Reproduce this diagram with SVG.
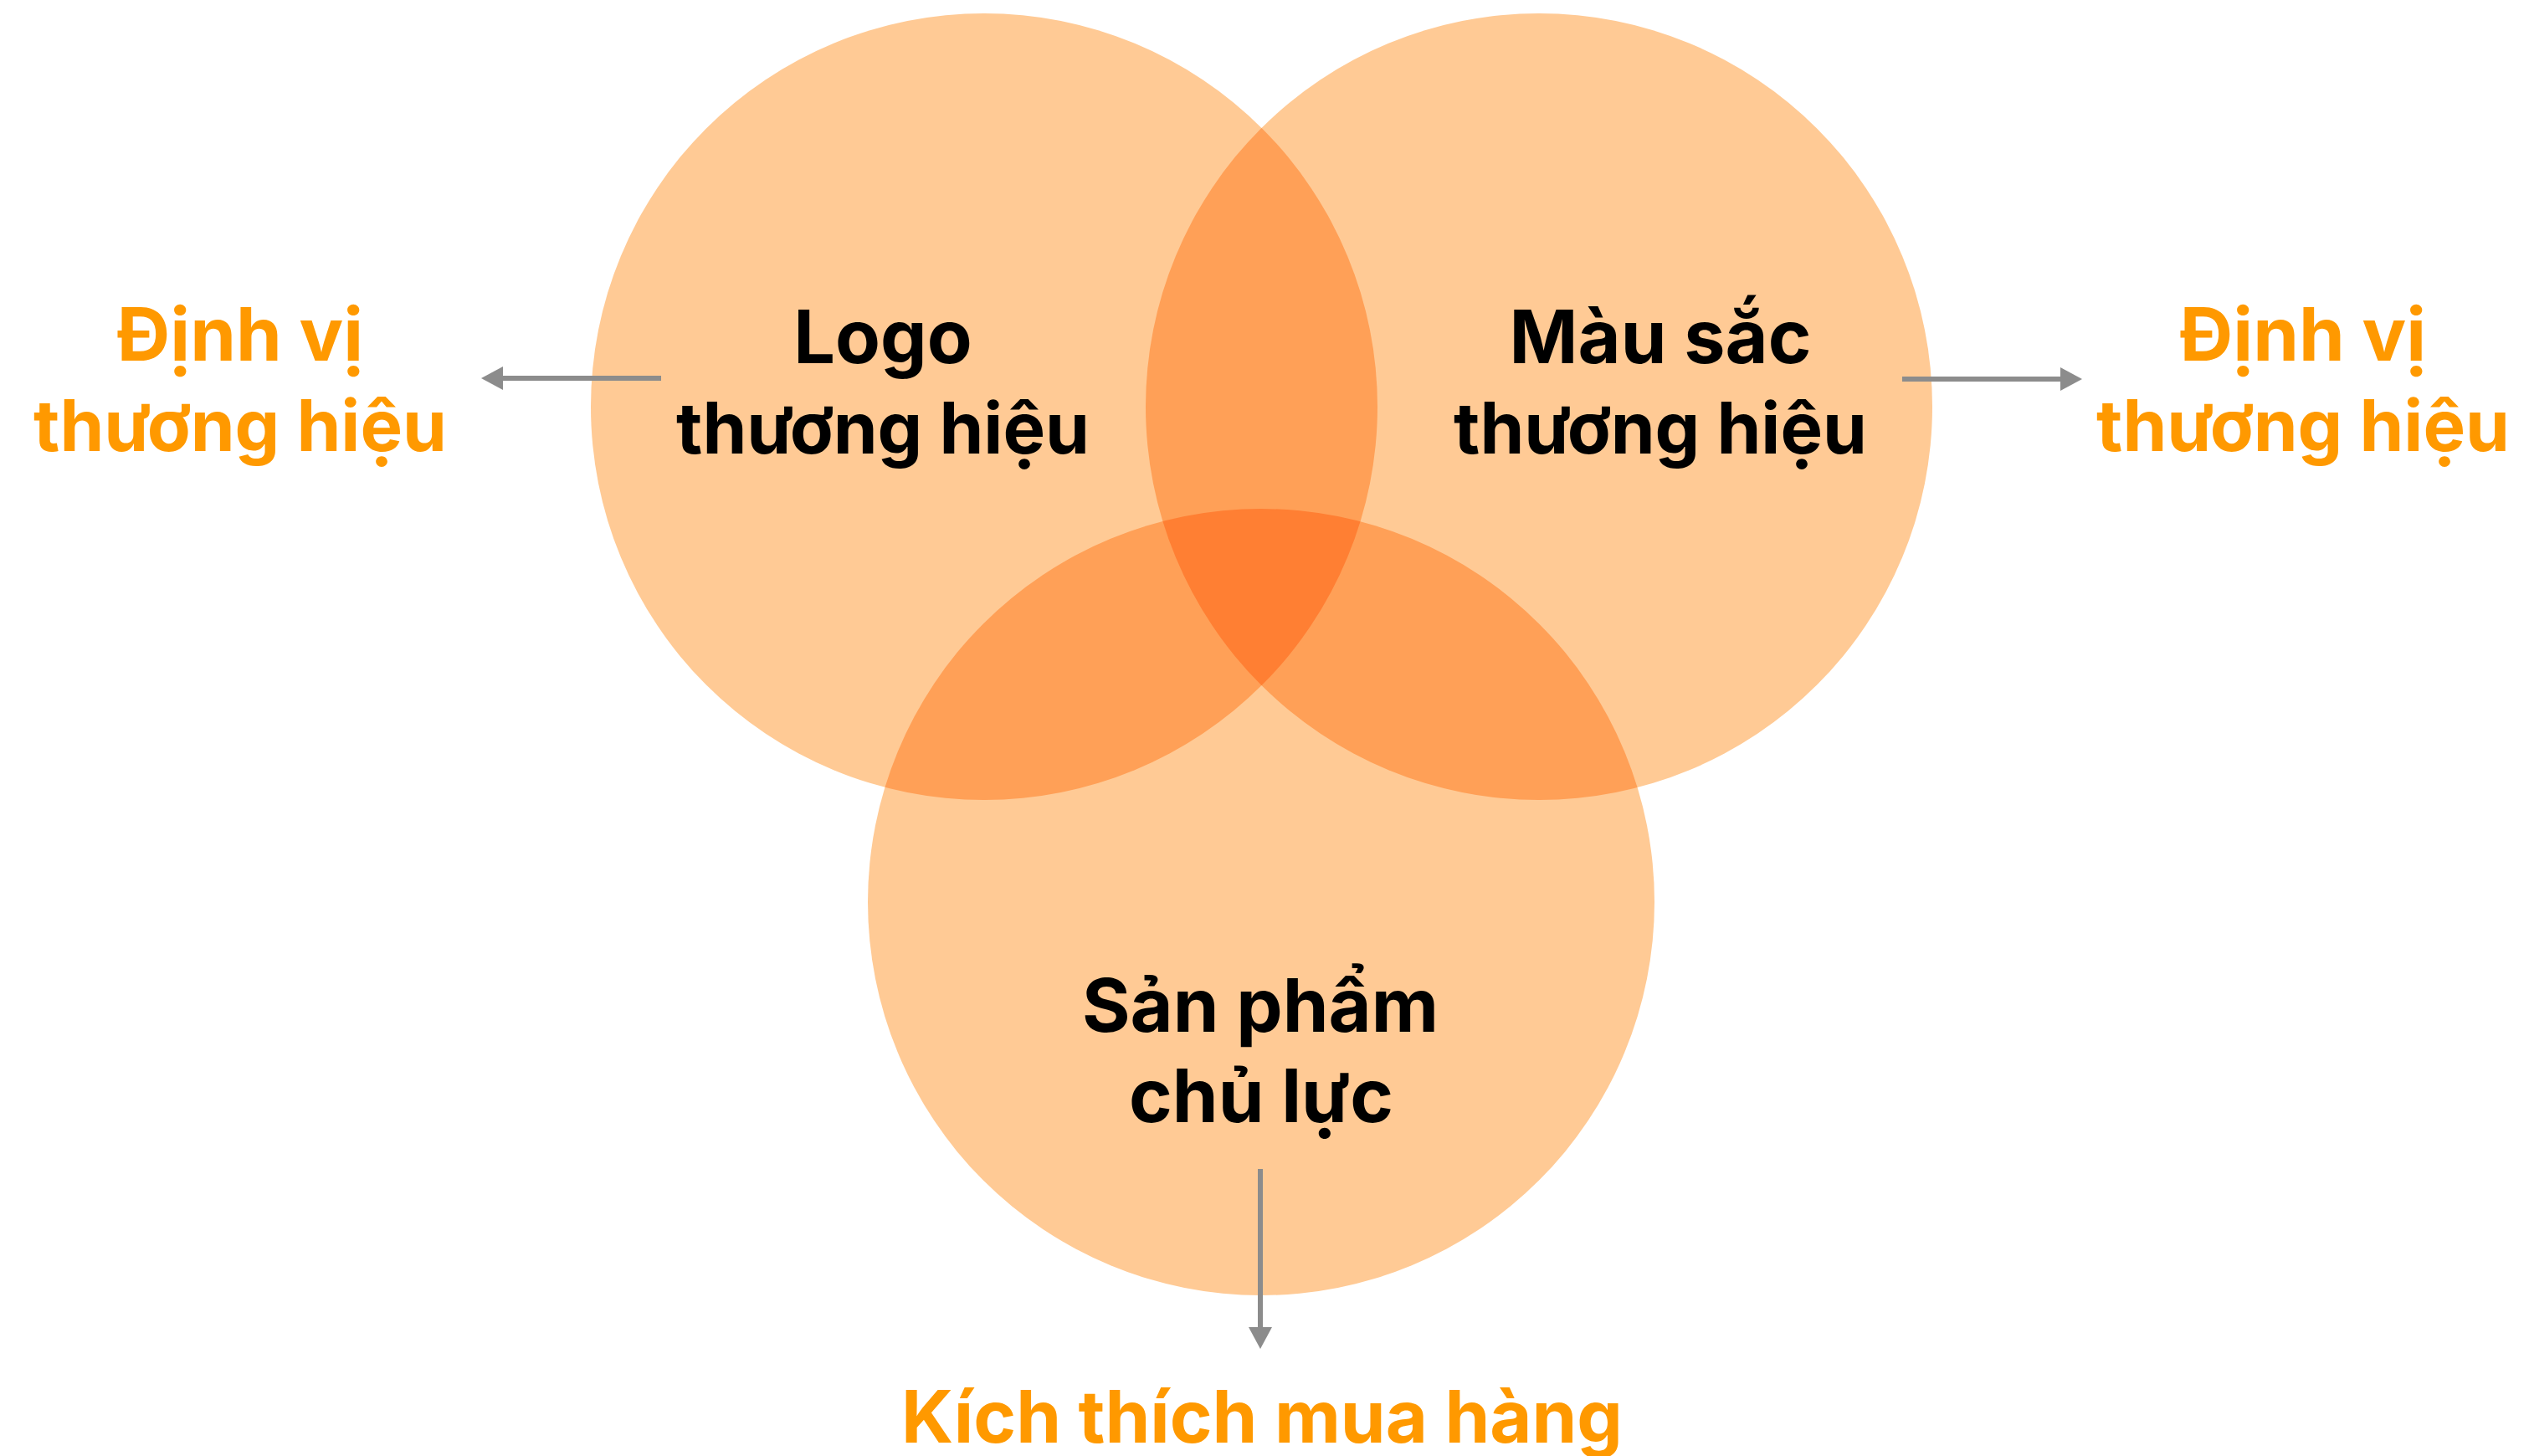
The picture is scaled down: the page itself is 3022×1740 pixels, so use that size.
<svg xmlns="http://www.w3.org/2000/svg" width="3022" height="1740" viewBox="0 0 3022 1740">
  <style>
    .circle { fill: #FFCA95; }
    .node { mix-blend-mode: multiply; }
    .lbl { font-family: Inter, "Noto Sans", "Liberation Sans", sans-serif; font-weight: 700; font-size: 88px; text-anchor: middle; }
    .th { font-size: 85px; }
    .dark { fill: #000000; }
    .orange { fill: #FF9900; }
    .conn { stroke: #8C8C8C; stroke-width: 6; fill: none; marker-end: url(#arrow); }
  </style>
  <defs>
    <marker id="arrow" markerUnits="userSpaceOnUse" markerWidth="26" markerHeight="28" viewBox="0 0 26 28" refX="1" refY="14" orient="auto">
      <path d="M0,0 L26,14 L0,28 Z" fill="#8C8C8C"/>
    </marker>
  </defs>
  <rect width="3022" height="1740" fill="#FFFFFF"/>

  <g id="node-logo" class="node">
    <circle class="circle" cx="1176" cy="486" r="470"/>
    <text class="lbl dark" x="1055" y="434">Logo</text>
    <text class="lbl th dark" x="1055" y="542">thương hiệu</text>
  </g>
  <g id="node-mau-sac" class="node">
    <circle class="circle" cx="1839" cy="486" r="470"/>
    <text class="lbl dark" x="1984" y="434">Màu sắc</text>
    <text class="lbl th dark" x="1984" y="542">thương hiệu</text>
  </g>
  <g id="node-san-pham" class="node">
    <circle class="circle" cx="1507" cy="1078" r="470"/>
    <text class="lbl dark" x="1506" y="1233">Sản phẩm</text>
    <text class="lbl dark" x="1507" y="1341">chủ lực</text>
  </g>

  <g id="label-dinh-vi-left">
    <text class="lbl orange" x="287" y="431">Định vị</text>
    <text class="lbl th orange" x="287" y="539">thương hiệu</text>
  </g>
  <g id="label-dinh-vi-right">
    <text class="lbl orange" x="2752" y="431">Định vị</text>
    <text class="lbl th orange" x="2752" y="539">thương hiệu</text>
  </g>
  <g id="label-kich-thich">
    <text class="lbl orange" x="1508" y="1724" style="font-size:86.5px">Kích thích mua hàng</text>
  </g>

  <g id="connectors">
    <line class="conn" x1="790" y1="452" x2="600" y2="452"/>
    <line class="conn" x1="2273" y1="453" x2="2463" y2="453"/>
    <line class="conn" x1="1506" y1="1397" x2="1506" y2="1587"/>
  </g>
</svg>
